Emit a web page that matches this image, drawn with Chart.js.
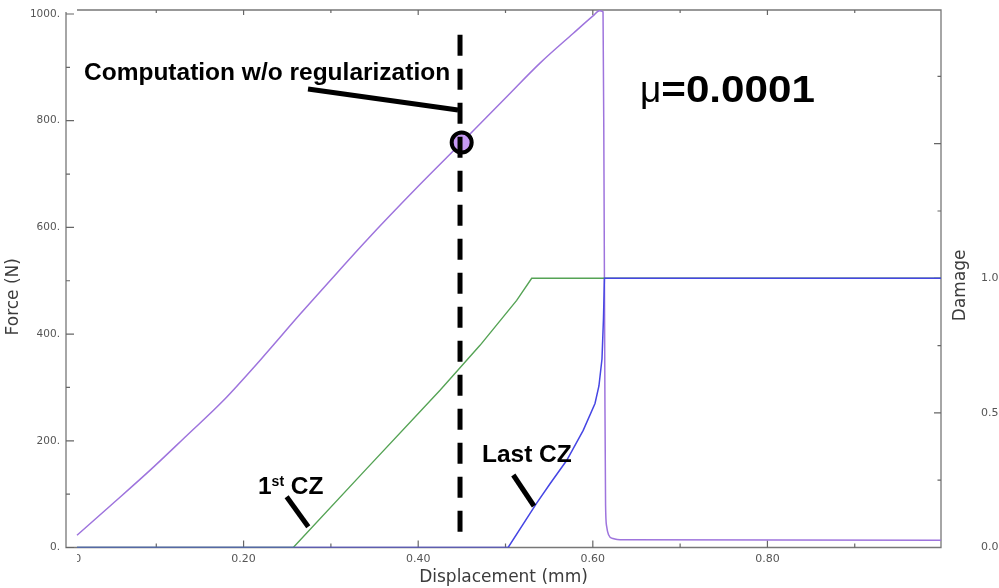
<!DOCTYPE html>
<html>
<head>
<meta charset="utf-8">
<script src="https://cdn.jsdelivr.net/npm/chart.js@4.4.1/dist/chart.umd.min.js"></script>
<style>
  html, body { margin: 0; padding: 0; background: #ffffff; }
  #wrap { width: 999px; height: 588px; }
</style>
</head>
<body>
<div id="wrap"><canvas id="chart" width="999" height="588"></canvas></div>
<script>
// Reaction force (N) against displacement (mm)
const forceX = [0.0092, 0.05, 0.093, 0.135, 0.176, 0.22, 0.2646, 0.30, 0.341, 0.40, 0.4498, 0.5014, 0.5395, 0.5777, 0.6006, 0.6075, 0.6117, 0.6128, 0.6138, 0.6146, 0.6158, 0.618, 0.623, 0.635, 0.999];
const forceN = [23, 82, 145, 210, 274, 353, 437, 502, 576, 677, 759, 845, 908, 964, 997, 1006, 1004, 700, 300, 80, 40, 24, 17, 14.5, 13.5];

// Damage of the first cohesive zone
const firstCzX = [0.0092, 0.2569, 0.341, 0.425, 0.4708, 0.5128, 0.530, 0.999];
const firstCzD = [0, 0, 0.293, 0.584, 0.751, 0.918, 1.0, 1.0];

// Damage of the last cohesive zone
const lastCzX = [0.0092, 0.503, 0.5357, 0.551, 0.570, 0.589, 0.6025, 0.607, 0.6105, 0.6122, 0.6133, 0.999];
const lastCzD = [0, 0, 0.165, 0.237, 0.323, 0.435, 0.535, 0.60, 0.70, 0.85, 1.0, 1.0];

// Marked state of the computation without regularization
const markX = [0.4498];
const markF = [759];
const markLineX = [0.4479, 0.4479];
const markLineF = [961, 12];

// Axis ranges and labelled ticks
const xRange = [-0.0034, 0.9988];
const forceRange = [0, 1007.5];
const damageRange = [0, 1.9967];
const xTicks = [0, 0.2, 0.4, 0.6, 0.8];
const forceTicks = [0, 200, 400, 600, 800, 1000];
const damageTicks = [0, 0.5, 1.0, 1.5];

const pts = (xs, ys) => xs.map((x, i) => ({ x: x, y: ys[i] }));
const asTicks = vals => vals.map(v => ({ value: v }));

const tickFont = { family: '"DejaVu Sans", Verdana, sans-serif', size: 11 };
const titleFont = { family: '"DejaVu Sans", Verdana, sans-serif', size: 17 };
const labelFont = '"Liberation Sans", Arial, Helvetica, sans-serif';

// Texts and leader lines placed in data units (x in mm, y in N)
const notes = [
  { kind: 'text', text: 'Computation w/o regularization', x: 0.0172, y: 877 },
  { kind: 'line', x1: 0.2738, y1: 859.5, x2: 0.4456, y2: 820 },
  { kind: 'mu', x: 0.654, y: 835.6 },
  { kind: 'text', text: 'Last CZ', x: 0.473, y: 160.8 },
  { kind: 'line', x1: 0.5089, y1: 135.9, x2: 0.5326, y2: 77.8 },
  { kind: 'sup', x: 0.2165, y: 101 },
  { kind: 'line', x1: 0.2493, y1: 95.2, x2: 0.2741, y2: 39 }
];

// fixed axis box sizes; no extra room reserved for end labels
const fixBox = (w, h) => s => {
  if (w !== null) s.width = w;
  if (h !== null) s.height = h;
  s.paddingTop = 0; s.paddingBottom = 0; s.paddingLeft = 0; s.paddingRight = 0;
};

// Axis frame with inward tick marks on all four sides
const framePlugin = {
  id: 'frame',
  beforeDatasetsDraw(chart) {
    const { ctx, chartArea: a, scales } = chart;
    const xs = scales.x, ys = scales.y, d = scales.y2;
    const plotLeft = xs.getPixelForValue(forceX[0]);
    ctx.save();
    ctx.strokeStyle = '#777777';
    ctx.lineWidth = 1.3;
    ctx.beginPath();
    ctx.moveTo(a.left, ys.getPixelForValue(forceTicks[forceTicks.length - 1]) - 2);
    ctx.lineTo(a.left, a.bottom);
    ctx.lineTo(a.right, a.bottom);
    ctx.lineTo(a.right, a.top);
    ctx.lineTo(plotLeft, a.top);
    ctx.stroke();

    ctx.strokeStyle = '#666666';
    ctx.lineWidth = 1.2;
    // major ticks from the scale, minor ticks halfway between them
    const tickSet = (scale) => {
      const vals = scale.ticks.map(t => t.value);
      const step = vals[1] - vals[0];
      const out = [];
      for (let k = 0; vals[0] + k * step / 2 <= scale.max + 1e-9; k++) {
        out.push({ v: vals[0] + k * step / 2, major: k % 2 === 0 });
      }
      return out;
    };
    ctx.beginPath();
    tickSet(xs).forEach(t => {
      if (t.v <= 0) return;
      const px = xs.getPixelForValue(t.v);
      ctx.moveTo(px, a.bottom); ctx.lineTo(px, a.bottom - (t.major ? 7 : 4));
      ctx.moveTo(px, a.top); ctx.lineTo(px, a.top + (t.major ? 5 : 3));
    });
    tickSet(ys).forEach(t => {
      const py = ys.getPixelForValue(t.v);
      ctx.moveTo(a.left, py); ctx.lineTo(a.left + (t.major ? 8 : 4), py);
    });
    tickSet(d).forEach(t => {
      if (t.v <= 0) return;
      const py = d.getPixelForValue(t.v);
      ctx.moveTo(a.right, py); ctx.lineTo(a.right - (t.major ? 7 : 3.5), py);
    });
    ctx.stroke();
    ctx.restore();
  }
};

// Side titles, callouts and the coefficient label
const notesPlugin = {
  id: 'notes',
  afterDraw(chart) {
    const { ctx, chartArea: a, scales } = chart;
    const xs = scales.x, ys = scales.y;
    const px = v => xs.getPixelForValue(v);
    const py = v => ys.getPixelForValue(v);
    ctx.save();

    // hide the part of the first x label lying left of the plotted range
    const plotLeft = px(forceX[0]);
    ctx.fillStyle = '#ffffff';
    ctx.fillRect(plotLeft - 40, a.bottom + 4.5, 40, 16);

    // vertical axis titles
    ctx.fillStyle = '#3c3c3c';
    ctx.font = '17px "DejaVu Sans", Verdana, sans-serif';
    ctx.textAlign = 'center';
    ctx.textBaseline = 'middle';
    ctx.save();
    ctx.translate(14, (a.top + a.bottom) / 2 + 18);
    ctx.rotate(-Math.PI / 2);
    ctx.fillText('Force (N)', 0, 0);
    ctx.restore();
    ctx.save();
    ctx.translate(a.right + 20, scales.y2.getPixelForValue(1.0) + 7);
    ctx.rotate(-Math.PI / 2);
    ctx.fillText('Damage', 0, 0);
    ctx.restore();

    // callouts
    ctx.fillStyle = '#000000';
    ctx.strokeStyle = '#000000';
    ctx.textAlign = 'left';
    ctx.textBaseline = 'alphabetic';
    notes.forEach(n => {
      if (n.kind === 'line') {
        ctx.lineWidth = 5;
        ctx.lineCap = 'butt';
        ctx.beginPath();
        ctx.moveTo(px(n.x1), py(n.y1));
        ctx.lineTo(px(n.x2), py(n.y2));
        ctx.stroke();
      } else if (n.kind === 'text') {
        ctx.font = 'bold 24.5px ' + labelFont;
        ctx.fillText(n.text, px(n.x), py(n.y));
      } else if (n.kind === 'sup') {
        let x = px(n.x);
        const y = py(n.y);
        ctx.font = 'bold 24.5px ' + labelFont;
        ctx.fillText('1', x, y);
        x += ctx.measureText('1').width;
        ctx.font = 'bold 14px ' + labelFont;
        ctx.fillText('st', x, y - 8);
        x += ctx.measureText('st').width;
        ctx.font = 'bold 24.5px ' + labelFont;
        ctx.fillText(' CZ', x, y);
      } else if (n.kind === 'mu') {
        const x = px(n.x);
        const y = py(n.y);
        ctx.font = '37px ' + labelFont;
        ctx.fillText('\u03bc', x, y);
        const w = ctx.measureText('\u03bc').width;
        ctx.save();
        ctx.translate(x + w, y);
        ctx.scale(1.14, 1);
        ctx.font = 'bold 37px ' + labelFont;
        ctx.fillText('=0.0001', 0, 0);
        ctx.restore();
      }
    });
    ctx.restore();
  }
};

new Chart(document.getElementById('chart'), {
  type: 'line',
  data: {
    datasets: [
      {
        data: pts(markLineX, markLineF),
        yAxisID: 'y',
        borderColor: '#000000',
        borderWidth: 5,
        borderDash: [21, 13],
        pointRadius: 0,
        fill: false
      },
      {
        data: pts(markX, markF),
        yAxisID: 'y',
        showLine: false,
        pointRadius: 10,
        pointBorderWidth: 4,
        pointBorderColor: '#000000',
        pointBackgroundColor: '#c79af5'
      },
      {
        label: 'Last CZ',
        data: pts(lastCzX, lastCzD),
        yAxisID: 'y2',
        borderColor: '#4646e4',
        borderWidth: 1.5,
        pointRadius: 0,
        tension: 0
      },
      {
        label: '1st CZ',
        data: pts(firstCzX, firstCzD),
        yAxisID: 'y2',
        borderColor: '#55a355',
        borderWidth: 1.4,
        pointRadius: 0,
        tension: 0
      },
      {
        label: 'Force',
        data: pts(forceX, forceN),
        yAxisID: 'y',
        borderColor: '#9e74dd',
        borderWidth: 1.5,
        pointRadius: 0,
        cubicInterpolationMode: 'monotone'
      }
    ]
  },
  options: {
    responsive: false,
    animation: false,
    devicePixelRatio: 1,
    events: [],
    layout: { autoPadding: false, padding: { top: 10, left: 0, right: 0, bottom: 0 } },
    plugins: { legend: { display: false }, tooltip: { enabled: false } },
    scales: {
      x: {
        type: 'linear',
        position: 'bottom',
        min: xRange[0],
        max: xRange[1],
        afterBuildTicks: s => { s.ticks = asTicks(xTicks); },
        grid: { display: false, drawTicks: false },
        border: { display: false },
        ticks: {
          maxRotation: 0,
          autoSkip: false,
          padding: 5,
          color: '#555555',
          font: tickFont,
          callback: v => v.toFixed(2)
        },
        title: {
          display: true,
          text: 'Displacement (mm)',
          color: '#3c3c3c',
          font: titleFont,
          padding: { top: 0, bottom: 0 }
        },
        afterFit: fixBox(null, 40.5)
      },
      y: {
        type: 'linear',
        position: 'left',
        min: forceRange[0],
        max: forceRange[1],
        afterBuildTicks: s => { s.ticks = asTicks(forceTicks); },
        grid: { display: false, drawTicks: false },
        border: { display: false },
        ticks: {
          autoSkip: false,
          padding: 6,
          color: '#555555',
          font: { family: tickFont.family, size: 10.5 },
          callback: v => v + '.'
        },
        afterFit: fixBox(66, null)
      },
      y2: {
        type: 'linear',
        position: 'right',
        min: damageRange[0],
        max: damageRange[1],
        afterBuildTicks: s => { s.ticks = asTicks(damageTicks); },
        grid: { display: false, drawTicks: false },
        border: { display: false },
        ticks: {
          autoSkip: false,
          padding: 40,
          color: '#555555',
          font: tickFont,
          callback: v => (v <= 1 ? v.toFixed(1) : '')
        },
        afterFit: fixBox(58, null)
      }
    }
  },
  plugins: [framePlugin, notesPlugin]
});
</script>
</body>
</html>
